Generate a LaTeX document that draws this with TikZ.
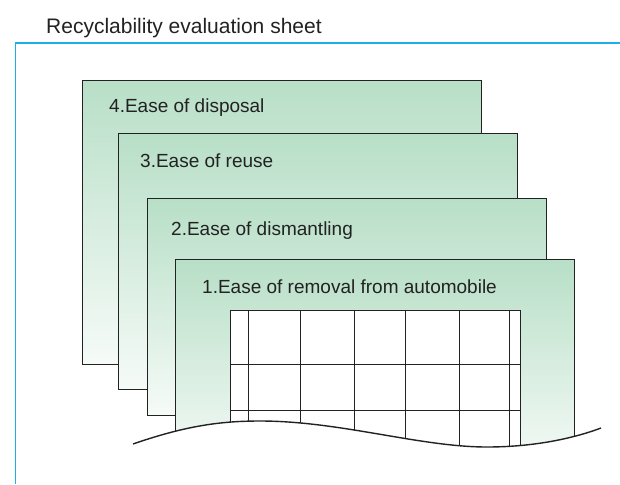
\documentclass[tikz,border=0pt]{standalone}
\usepackage{fontspec}
\setmainfont{Liberation Sans}
\usepackage{tikz}
\usepackage{xcolor}

\definecolor{sheetgreen}{RGB}{184,223,199}
\definecolor{sheetpale}{RGB}{246,251,248}
\definecolor{framecyan}{RGB}{30,175,235}
\definecolor{inkgray}{RGB}{34,34,34}

\tikzset{
  sheet/.style={draw=inkgray, line width=1.4pt, top color=sheetgreen,
    bottom color=sheetpale, inner sep=0pt, anchor=north west},
  sheetlabel/.style={anchor=base west, inner sep=0pt, text=inkgray,
    font=\fontsize{19}{22}\selectfont},
  gridline/.style={draw=inkgray, line width=0.9pt},
}

\begin{document}
\begin{tikzpicture}[x=1pt, y=-1pt]
    \useasboundingbox (0,0) rectangle (620,484);
    \node[anchor=base west, inner sep=0pt, text=inkgray,
      font=\fontsize{21}{24}\selectfont] (title) at (46,34) {Recyclability evaluation sheet};
    \draw[framecyan, line width=1.8pt] (620,43) -- (15.5,43) -- (15.5,484);
    % sheets, back to front
    \foreach \i/\x/\y/\h/\dx/\dy/\txt in {
        4/82/80/284/27/33/{4.Ease of disposal},
        3/118/133/256/22/34/{3.Ease of reuse},
        2/147/198/217/24/37/{2.Ease of dismantling},
        1/175/259/210/27/34/{1.Ease of removal from automobile}} {
      \node[sheet, minimum width=399pt, minimum height=\h pt] (S\i) at (\x,\y) {};
      \node[sheetlabel] (L\i) at ([shift={(\dx pt,-\dy pt)}]S\i.north west) {\txt};
    }
    % evaluation table on the front sheet
    \node[draw=inkgray, line width=0.9pt, fill=white, inner sep=0pt, anchor=north west,
      minimum width=290pt, minimum height=160pt] (T) at (230,310) {};
    \foreach \x in {248,300,354,405,459,509}
      \draw[gridline] (\x,310) -- (\x,470);
    \foreach \y in {364,410}
      \draw[gridline] (230,\y) -- (520,\y);
    % torn edge
    \def\wave{(133,444) .. controls (185,426) and (220,421) .. (260,421)
      .. controls (340,421) and (420,447) .. (487,447)
      .. controls (540,447) and (580,436) .. (601,428)}
    \fill[white] \wave -- (601,490) -- (133,490) -- cycle;
    \draw[inkgray, line width=1.4pt] \wave;
  \end{tikzpicture}
\end{document}
